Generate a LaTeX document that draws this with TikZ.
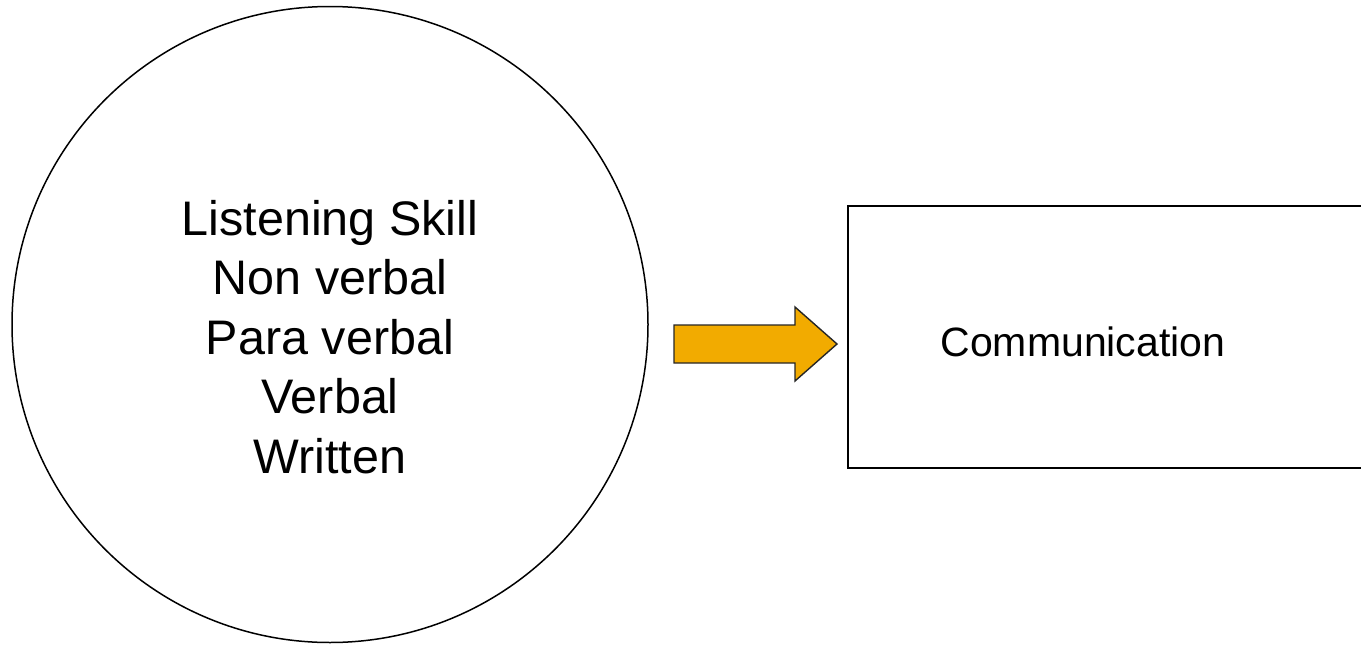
\documentclass[tikz,border=0pt]{standalone}
\usepackage{fontspec}
\setmainfont{Liberation Sans}
\usepackage{tikz}
\usetikzlibrary{calc}
\definecolor{arroworange}{HTML}{F2AB00}
\def\skillcircle{(330,324.5) circle (318pt)}
\def\commbox{(848,206) rectangle (1366,468)}
\def\fatarrow{(674,325) -- (795,325) -- (795,307) -- (837,344) -- (795,381) -- (795,363) -- (674,363) -- cycle}

\begin{document}
\begin{tikzpicture}[x=1pt,y=-1pt]
   \useasboundingbox (0,0) rectangle (1361,645);
   \fill[white] (0,0) rectangle (1361,645);
       \draw[line width=1.5pt] \skillcircle;
    \draw[line width=1.8pt] \commbox;
      \filldraw[fill=arroworange,draw=black!85,line width=1.4pt,line join=miter] \fatarrow;
   \node[align=center,font=\fontsize{48.5}{59.5}\selectfont] (skills) at (330,337)
      {Listening Skill\\Non verbal\\Para verbal\\Verbal\\Written};
   \node[font=\fontsize{41}{49}\selectfont] (comm) at (1083,342) {Communication};
                            \end{tikzpicture}
\end{document}
